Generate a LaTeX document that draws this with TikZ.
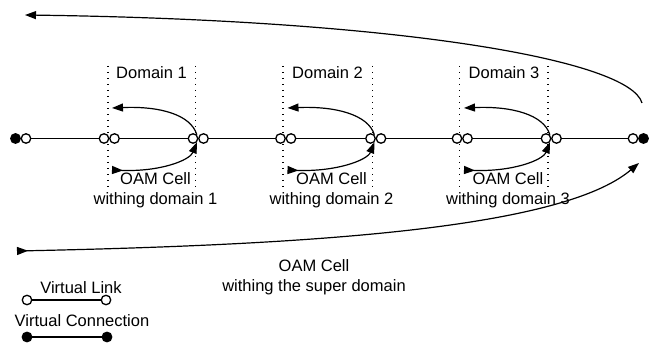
\documentclass[tikz,border=0pt]{standalone}
\usepackage{fontspec}
\setmainfont{Liberation Sans}
\usepackage{tikz}
\usetikzlibrary{arrows.meta}

\begin{document}
\begin{tikzpicture}[
  x=1pt, y=-1pt,
  port/.style={circle, draw, line width=1.3pt, fill=white, inner sep=0pt, minimum size=9.5pt},
  vconn/.style={port, fill=black},
  link/.style={line width=1.4pt},
  border/.style={line width=1.1pt, dash pattern=on 1.2pt off 4.8pt},
  cell/.style={line width=1.2pt},
  tag/.style={font=\fontsize{16.5}{20}\selectfont, align=center, inner sep=0pt},
  >={Triangle[length=11pt,width=8pt]}
]
  \useasboundingbox (0,0) rectangle (651,344);

  % domain borders
  \draw[border] (108,66) -- (108,188);
  \draw[border] (195.5,66) -- (195.5,188);
  \draw[border] (283,66) -- (283,188);
  \draw[border] (372.5,66) -- (372.5,188);
  \draw[border] (459.5,66) -- (459.5,188);
  \draw[border] (548,66) -- (548,188);

  \node[tag] (dom1) at (151.5,73) {Domain 1};
  \node[tag] (dom2) at (327.5,73) {Domain 2};
  \node[tag] (dom3) at (504,73)   {Domain 3};

  % the connection
  \node[vconn] (l0) at (15.5,138.5) {};
  \node[port]  (l1) at (26,138.5)   {};
  \node[port]  (p1a) at (104,138.5)   {};
  \node[port]  (p1b) at (114.5,138.5) {};
  \node[port]  (p2a) at (193,138.5)   {};
  \node[port]  (p2b) at (203.5,138.5) {};
  \node[port]  (p3a) at (280.5,138.5) {};
  \node[port]  (p3b) at (291,138.5)   {};
  \node[port]  (p4a) at (370.5,138.5) {};
  \node[port]  (p4b) at (381,138.5)   {};
  \node[port]  (p5a) at (457,138.5)   {};
  \node[port]  (p5b) at (467.5,138.5) {};
  \node[port]  (p6a) at (546,138.5)   {};
  \node[port]  (p6b) at (556.5,138.5) {};
  \node[port]  (r1) at (633,138.5)   {};
  \node[vconn] (r0) at (643.5,138.5) {};

  \draw[link] (l1) -- (p1a);
  \draw[link] (p1b) -- (p2a);
  \draw[link] (p2b) -- (p3a);
  \draw[link] (p3b) -- (p4a);
  \draw[link] (p4b) -- (p5a);
  \draw[link] (p5b) -- (p6a);
  \draw[link] (p6b) -- (r1);

  % OAM cells inside each domain
  \coordinate (u1) at (112,108);
  \coordinate (d1) at (112,170);
  \coordinate (u2) at (287.5,108);
  \coordinate (d2) at (287.5,170);
  \coordinate (u3) at (464,108);
  \coordinate (d3) at (464,170);

  \draw[cell, ->] (p2a.north east) .. controls +(-6,-20) and +(48,-2) .. (u1);
  \draw[cell, {Triangle[reversed,length=11pt,width=8pt]}->] (d1) .. controls +(48,2) and +(-7,18) .. (p2a.south east);
  \draw[cell, ->] (p4a.north east) .. controls +(-6,-20) and +(48,-2) .. (u2);
  \draw[cell, {Triangle[reversed,length=11pt,width=8pt]}->] (d2) .. controls +(48,2) and +(-7,18) .. (p4a.south east);
  \draw[cell, ->] (p6a.north east) .. controls +(-6,-20) and +(48,-2) .. (u3);
  \draw[cell, {Triangle[reversed,length=11pt,width=8pt]}->] (d3) .. controls +(48,2) and +(-7,18) .. (p6a.south east);

  \node[tag] (oam1) at (155.5,190) {OAM Cell\\withing domain 1};
  \node[tag] (oam2) at (331.5,190) {OAM Cell\\withing domain 2};
  \node[tag] (oam3) at (508,190)   {OAM Cell\\withing domain 3};

  % OAM cell across the super domain
  \coordinate (sa) at (642,103);
  \coordinate (sb) at (25,15);
  \coordinate (sc) at (17,251);
  \coordinate (sd) at (639,163);
  \draw[cell, ->] (sa) .. controls (630,60) and (400,20) .. (sb);
  \draw[cell, {Triangle[reversed,length=11pt,width=8pt]}->] (sc) .. controls (300,245) and (560,230) .. (sd);
  \node[tag] (oams) at (314,277) {OAM Cell\\withing the super domain};

  % legend
  \node[tag] (vl) at (81,288) {Virtual Link};
  \node[port] (k1) at (27,300)  {};
  \node[port] (k2) at (106,300) {};
  \draw[link] (k1) -- (k2);
  \node[tag] (vc) at (82,321) {Virtual Connection};
  \node[vconn] (k3) at (27,337)  {};
  \node[vconn] (k4) at (107,337) {};
  \draw[link] (k3) -- (k4);
\end{tikzpicture}
\end{document}
